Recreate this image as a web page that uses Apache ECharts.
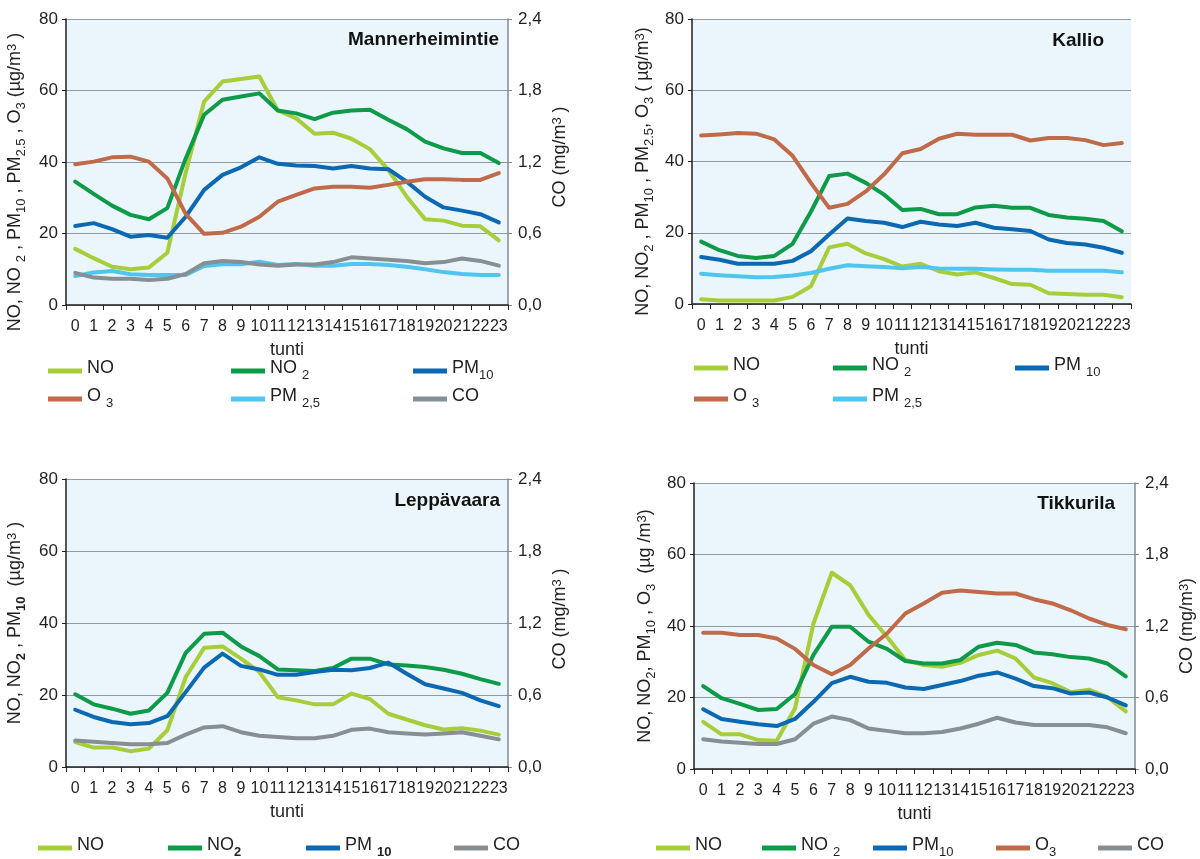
<!DOCTYPE html>
<html><head><meta charset="utf-8">
<script src="https://cdn.jsdelivr.net/npm/echarts@6/dist/echarts.min.js"></script>
<style>html,body{margin:0;padding:0;background:#fff}#c{width:1200px;height:859px}</style>
</head><body><div id="c"></div>
<script>
// ---------- DATA ----------
const hours = ['0','1','2','3','4','5','6','7','8','9','10','11','12','13','14','15','16','17','18','19','20','21','22','23'];
const leftTicks = [0, 20, 40, 60, 80];
const coTicks = [0, 0.6, 1.2, 1.8, 2.4];
const stations = ['Mannerheimintie', 'Kallio', 'Leppävaara', 'Tikkurila'];

// Mannerheimintie
const mNO   = [15.7,13.1,10.7,10.0,10.5,14.6,37.0,56.9,62.5,63.2,63.9,54.4,52.2,47.9,48.2,46.5,43.6,37.8,30.3,24.0,23.6,22.2,22.0,18.1];
const mNO2  = [34.5,31.1,27.8,25.2,24.0,27.1,41.0,53.2,57.4,58.3,59.2,54.4,53.6,52.0,53.8,54.4,54.6,51.8,49.2,45.7,43.8,42.5,42.5,39.7];
const mPM10 = [22.1,22.9,21.2,19.1,19.6,18.8,24.7,32.2,36.4,38.5,41.3,39.5,39.0,38.9,38.2,38.9,38.2,38.0,34.5,30.3,27.3,26.4,25.4,23.1];
const mO3   = [39.4,40.1,41.3,41.5,40.1,35.4,25.5,19.9,20.2,21.9,24.7,28.9,30.8,32.6,33.1,33.1,32.8,33.6,34.5,35.2,35.2,35.0,35.0,36.9];
const mPM25 = [8.1,9.1,9.5,8.6,8.4,8.4,8.4,10.9,11.4,11.4,12.1,11.2,11.5,11.0,11.0,11.5,11.5,11.2,10.7,10.0,9.2,8.7,8.4,8.4];
const mCO   = [0.27,0.23,0.22,0.22,0.21,0.22,0.26,0.35,0.37,0.36,0.34,0.33,0.34,0.34,0.36,0.40,0.39,0.38,0.37,0.35,0.36,0.39,0.37,0.33];

// Kallio
const kNO   = [1.3,1.0,1.0,1.0,1.0,2.0,5.0,15.9,16.9,14.2,12.6,10.5,11.3,9.2,8.3,8.9,7.3,5.6,5.4,3.0,2.8,2.6,2.6,1.9];
const kNO2  = [17.5,15.1,13.5,12.9,13.5,16.9,25.9,35.9,36.6,34.0,30.7,26.4,26.7,25.2,25.2,27.1,27.6,27.0,27.0,25.0,24.3,23.9,23.3,20.4];
const kPM10 = [13.2,12.4,11.3,11.3,11.3,12.1,14.8,19.5,24.0,23.3,22.8,21.6,23.1,22.3,21.9,22.8,21.4,21.0,20.5,18.1,17.1,16.7,15.8,14.4];
const kO3   = [47.3,47.6,48.0,47.8,46.2,41.6,34.0,27.0,28.1,31.6,36.4,42.3,43.5,46.4,47.8,47.5,47.5,47.5,45.9,46.6,46.6,46.0,44.6,45.2];
const kPM25 = [8.5,8.1,7.8,7.5,7.6,8.0,8.7,9.9,10.9,10.6,10.4,10.0,10.4,10.0,9.9,9.9,9.7,9.6,9.6,9.3,9.3,9.3,9.3,8.9];

// Leppävaara
const lNO   = [6.9,5.4,5.4,4.4,5.1,10.2,25.0,33.1,33.5,30.1,26.4,19.4,18.5,17.4,17.4,20.4,18.9,14.8,13.2,11.6,10.4,10.8,10.1,9.0];
const lNO2  = [20.2,17.4,16.2,14.8,15.7,20.6,31.7,37.0,37.3,33.5,30.8,27.1,26.9,26.7,27.5,30.1,30.1,28.5,28.2,27.8,27.0,25.9,24.4,23.1];
const lPM10 = [15.9,13.9,12.5,11.9,12.2,14.1,20.8,27.6,31.5,28.1,27.1,25.6,25.6,26.4,27.0,26.9,27.5,29.0,25.9,23.0,21.8,20.6,18.5,16.9];
const lCO   = [0.22,0.21,0.20,0.19,0.19,0.20,0.27,0.33,0.34,0.29,0.26,0.25,0.24,0.24,0.26,0.31,0.32,0.29,0.28,0.27,0.28,0.29,0.26,0.23];

// Tikkurila
const tNO   = [13.2,9.7,9.7,8.1,7.9,17.0,40.7,54.9,51.4,43.1,37.0,30.5,29.1,28.6,29.7,31.9,33.1,30.9,25.6,24.0,21.5,22.2,20.1,16.1];
const tNO2  = [23.2,19.8,18.2,16.5,16.8,21.0,31.9,39.8,39.8,35.6,33.6,30.2,29.5,29.5,30.5,34.2,35.3,34.7,32.6,32.1,31.3,30.9,29.5,25.9];
const tPM10 = [16.7,14.0,13.2,12.5,12.0,14.0,18.8,24.0,25.8,24.4,24.1,22.8,22.4,23.5,24.6,26.1,27.0,25.3,23.2,22.6,21.1,21.4,20.0,17.8];
const tO3   = [38.1,38.1,37.5,37.5,36.5,33.6,29.1,26.5,29.1,33.7,37.9,43.5,46.3,49.3,49.9,49.5,49.1,49.1,47.5,46.3,44.4,42.1,40.3,39.1];
const tCO   = [0.25,0.23,0.22,0.21,0.21,0.25,0.38,0.44,0.41,0.34,0.32,0.30,0.30,0.31,0.34,0.38,0.43,0.39,0.37,0.37,0.37,0.37,0.35,0.30];

// ---------- STYLE / LAYOUT ----------
const FONT = "'Liberation Sans', Arial, sans-serif";
const TXT = '#231f20';
const GRIDC = '#8e9ba4';
const COLORS = {NO:'#a6cd3a', NO2:'#0d9a49', PM10:'#0b68b2', O3:'#c06a4a', PM25:'#4fc5ef', CO:'#878e94'};

const rich = {
  n:  {fontSize:18, lineHeight:23, verticalAlign:'top', fontFamily:FONT, color:TXT},
  s:  {fontSize:13, lineHeight:13, padding:[9,0,0,0], verticalAlign:'top', fontFamily:FONT, color:TXT},
  sb: {fontSize:13, lineHeight:13, padding:[9,0,0,0], verticalAlign:'top', fontFamily:FONT, color:TXT, fontWeight:'bold'},
  p:  {fontSize:13, lineHeight:13, padding:[0,0,0,0], verticalAlign:'top', fontFamily:FONT, color:TXT}
};

const grids = [
  {left:66,  top:19,  width:442, height:286},
  {left:692, top:19,  width:439, height:285},
  {left:66,  top:479, width:442, height:288},
  {left:694, top:483, width:441, height:286}
];

const titlePos = [
  {right:701, top:30},
  {right:96,  top:31},
  {right:700, top:491},
  {right:85,  top:494}
];

const leftNames = [
  {text:'{n|NO, NO }{s|2}{n| , PM}{s|10}{n| , PM}{s|2.5}{n| , O}{s|3}{n| (µg/m}{p|3}{n| )}', gap:37, pad:[0,40,0,0]},
  {text:'{n|NO, NO}{s|2}{n| , PM}{s|10}{n| , PM}{s|2.5}{n|, O}{s|3}{n| ( µg/m}{p|3}{n|)}', gap:35, pad:[0,20,0,0]},
  {text:'{n|NO, NO}{sb|2}{n| , PM}{sb|10}{n|  (µg/m}{p|3}{n| )}', gap:37, pad:0},
  {text:'{n|NO, NO}{s|2}{n|, PM}{s|10}{n| , O}{s|3}{n|  (µg /m}{p|3}{n|)}', gap:35, pad:0}
];
const rightNames = [
  {grid:0, text:'{n|CO (mg/m}{p|3}{n| )}', pad:[0,0,0,10]},
  {grid:2, text:'{n|CO (mg/m}{p|3}{n| )}', pad:[0,0,0,8]},
  {grid:3, text:'{n|CO (mg/m}{p|3}{n|)}', pad:[0,0,0,0]}
];

// legend items: [series name, label, icon left x, row center y]
const legendItems = [
  ['NO',  '{n|NO}',             48, 371], ['NO2', '{n|NO }{s|2}',   231, 371], ['PM10','{n|PM}{s|10}',   413, 371],
  ['O3',  '{n|O }{s|3}',        48, 399], ['PM25','{n|PM }{s|2,5}', 231, 399], ['CO',  '{n|CO}',         413, 399],
  ['NO',  '{n|NO}',            694, 368], ['NO2', '{n|NO }{s|2}',   833, 368], ['PM10','{n|PM }{s|10}', 1015, 368],
  ['O3',  '{n|O }{s|3}',       694, 399], ['PM25','{n|PM }{s|2,5}', 833, 399],
  ['NO',  '{n|NO}',             38, 848], ['NO2', '{n|NO}{sb|2}',   168, 848], ['PM10','{n|PM }{sb|10}', 306, 848], ['CO','{n|CO}', 454, 848],
  ['NO',  '{n|NO}',            656, 848], ['NO2', '{n|NO }{s|2}',   762, 848], ['PM10','{n|PM}{s|10}',   873, 848],
  ['O3',  '{n|O}{s|3}',        996, 848], ['CO',  '{n|CO}',        1098, 848]
];

// ---------- BUILD ----------
const xAxes = grids.map((g, i) => ({
  type:'category', gridIndex:i, data:hours, boundaryGap:true,
  axisLine:{show:true, lineStyle:{color:TXT, width:1.5}},
  axisTick:{show:true, length:5, lineStyle:{color:TXT, width:1}},
  axisLabel:{interval:0, fontSize:16, color:TXT, fontFamily:FONT, margin:14, hideOverlap:false},
  splitLine:{show:false},
  name:'tunti', nameLocation:'middle', nameGap:36,
  nameTextStyle:{fontSize:18, color:TXT, fontFamily:FONT}
}));

const yAxes = [];
const leftIdx = [], rightIdx = {};
grids.forEach((g, i) => {
  leftIdx.push(yAxes.length);
  yAxes.push({
    type:'value', gridIndex:i, position:'left',
    min:leftTicks[0], max:leftTicks[leftTicks.length-1], interval:leftTicks[1]-leftTicks[0],
    axisLine:{show:true, lineStyle:{color:TXT, width:1.5}},
    axisTick:{show:true, length:4, lineStyle:{color:TXT}},
    axisLabel:{fontSize:17, color:TXT, fontFamily:FONT, margin:8},
    splitLine:{show:true, lineStyle:{color:GRIDC, width:1}},
    name:leftNames[i].text, nameLocation:'middle', nameRotate:90, nameGap:leftNames[i].gap,
    nameTextStyle:{rich:rich, padding:leftNames[i].pad}
  });
  const rn = rightNames.find(r => r.grid === i);
  if (rn) {
    rightIdx[i] = yAxes.length;
    yAxes.push({
      type:'value', gridIndex:i, position:'right',
      min:coTicks[0], max:coTicks[coTicks.length-1], interval:coTicks[1]-coTicks[0],
      axisLine:{show:true, lineStyle:{color:'#7f8b93', width:1.5}},
      axisTick:{show:true, length:4, lineStyle:{color:'#7f8b93'}},
      axisLabel:{fontSize:17, color:TXT, fontFamily:FONT, margin:10,
                 formatter:v => v.toFixed(1).replace('.', ',')},
      splitLine:{show:false},
      name:rn.text, nameLocation:'middle', nameRotate:90, nameGap:43,
      nameTextStyle:{rich:rich, padding:rn.pad}
    });
  }
});

function line(name, data, gi, right) {
  return {
    type:'line', name:name, data:data, xAxisIndex:gi,
    yAxisIndex: right ? rightIdx[gi] : leftIdx[gi],
    symbol:'none', color:COLORS[name],
    lineStyle:{width:4, color:COLORS[name], join:'round', cap:'round'},
    itemStyle:{color:COLORS[name]}
  };
}

const series = [
  line('NO', mNO, 0), line('NO2', mNO2, 0), line('PM10', mPM10, 0), line('O3', mO3, 0), line('PM25', mPM25, 0), line('CO', mCO, 0, true),
  line('NO', kNO, 1), line('NO2', kNO2, 1), line('PM10', kPM10, 1), line('O3', kO3, 1), line('PM25', kPM25, 1),
  line('NO', lNO, 2), line('NO2', lNO2, 2), line('PM10', lPM10, 2), line('CO', lCO, 2, true),
  line('NO', tNO, 3), line('NO2', tNO2, 3), line('PM10', tPM10, 3), line('O3', tO3, 3), line('CO', tCO, 3, true)
];

const legends = legendItems.map(([nm, label, x, y]) => ({
  data:[{name:nm, itemStyle:{color:COLORS[nm]}}], left:x, top:y - 11.5, padding:0,
  icon:'rect', itemWidth:34, itemHeight:5, selectedMode:false,
  formatter:() => label,
  textStyle:{rich:rich, fontSize:18, fontFamily:FONT, color:TXT}
}));

const titles = stations.map((s, i) => ({
  text:s, right:titlePos[i].right, top:titlePos[i].top, padding:0,
  textStyle:{fontSize:19, fontWeight:'bold', color:'#111', fontFamily:FONT}
}));

const chart = echarts.init(document.getElementById('c'), null, {renderer:'canvas'});
chart.setOption({
  animation:false,
  backgroundColor:'#ffffff',
  title:titles,
  legend:legends,
  grid:grids.map(g => Object.assign({show:true, backgroundColor:'#ebf6fc', borderWidth:0, containLabel:false}, g)),
  xAxis:xAxes,
  yAxis:yAxes,
  series:series
});
</script>
</body></html>
